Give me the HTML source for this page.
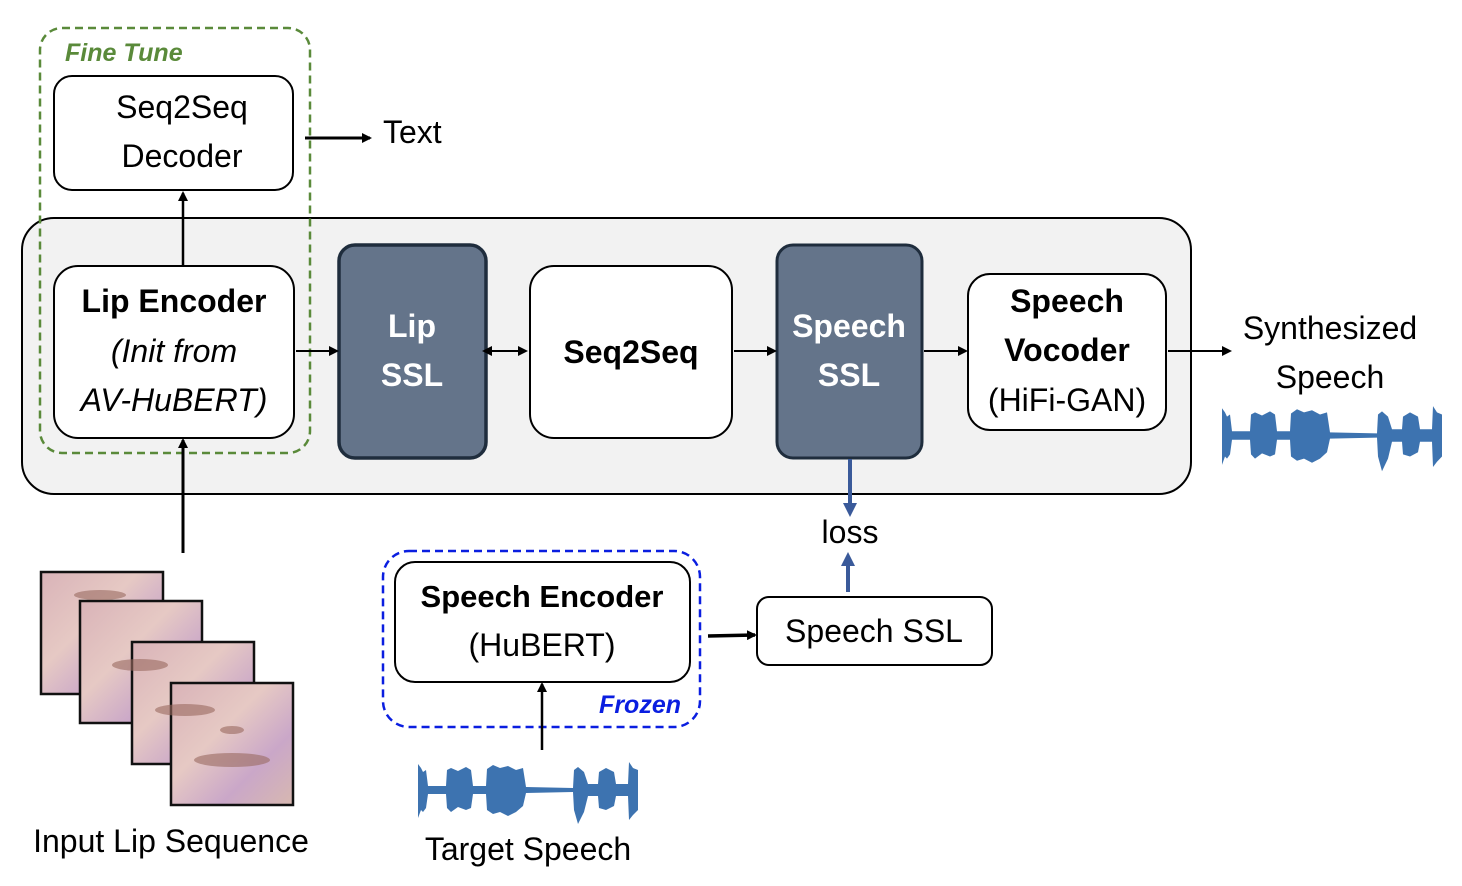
<!DOCTYPE html>
<html><head><meta charset="utf-8"><style>
html,body{margin:0;padding:0;background:#fff;}
svg{display:block;font-family:"Liberation Sans",Arial,sans-serif;}
</style></head><body>
<svg width="1462" height="886" viewBox="0 0 1462 886" xmlns="http://www.w3.org/2000/svg">
<defs>
<marker id="ah" markerWidth="10" markerHeight="10" refX="8" refY="5" orient="auto" markerUnits="userSpaceOnUse"><path d="M0,0 L10,5 L0,10 z" fill="#000"/></marker>
<marker id="ahs" markerWidth="10" markerHeight="10" refX="2" refY="5" orient="auto-start-reverse" markerUnits="userSpaceOnUse"><path d="M0,0 L10,5 L0,10 z" fill="#000"/></marker>
<marker id="ahb" markerWidth="14" markerHeight="14" refX="10" refY="7" orient="auto" markerUnits="userSpaceOnUse"><path d="M0,0 L14,7 L0,14 z" fill="#3a5a9a"/></marker>
<linearGradient id="skin" x1="0" y1="0" x2="1" y2="1"><stop offset="0" stop-color="#d9b3b8"/><stop offset="0.4" stop-color="#e6c9c4"/><stop offset="0.7" stop-color="#caa7c8"/><stop offset="1" stop-color="#d7b8b0"/></linearGradient>
<g id="wave"><path fill="#3d73b0" d="M0,4 L3,8 L5,12 L8,10 L10,26 L28,26 L29,10 L33,8 L40,11 L48,7 L53,10 L55,26 L68,26 L69,9 L75,5 L82,8 L90,6 L98,10 L105,8 L108,27 L155,28 L156,10 L160,7 L166,12 L170,24 L180,24 L181,12 L188,8 L196,12 L198,24 L210,24 L211,2 L215,8 L220,10 L220,50 L215,55 L211,60 L210,36 L198,36 L196,46 L188,50 L181,48 L180,36 L170,36 L166,52 L160,64 L156,50 L155,32 L108,33 L105,46 L98,52 L90,56 L82,52 L75,54 L69,50 L68,34 L55,34 L53,48 L48,50 L40,47 L33,52 L29,48 L28,34 L10,34 L8,48 L5,52 L3,50 L0,58 z"/></g>
</defs>

<!-- big container -->
<rect x="22" y="218" width="1169" height="276" rx="32" fill="#f2f2f2" stroke="#000" stroke-width="2"/>

<!-- Fine tune dashed -->
<rect x="40" y="28" width="270" height="425" rx="22" fill="none" stroke="#5a8a3a" stroke-width="2.5" stroke-dasharray="8,5"/>
<text x="65" y="61" font-size="25" font-weight="bold" font-style="italic" fill="#5a8a3a">Fine Tune</text>

<!-- Seq2Seq decoder -->
<rect x="54" y="76" width="239" height="114" rx="18" fill="#fff" stroke="#000" stroke-width="2"/>
<text x="182" y="118" font-size="32" text-anchor="middle">Seq2Seq</text>
<text x="182" y="167" font-size="32" text-anchor="middle">Decoder</text>
<line x1="305" y1="138" x2="370" y2="138" stroke="#000" stroke-width="3" marker-end="url(#ah)"/>
<text x="383" y="143" font-size="32">Text</text>

<!-- Lip encoder -->
<rect x="54" y="266" width="240" height="172" rx="24" fill="#fff" stroke="#000" stroke-width="2"/>
<text x="174" y="312" font-size="32" font-weight="bold" text-anchor="middle">Lip Encoder</text>
<text x="174" y="362" font-size="32" font-style="italic" text-anchor="middle">(Init from</text>
<text x="174" y="411" font-size="32" font-style="italic" text-anchor="middle">AV-HuBERT)</text>
<line x1="183" y1="266" x2="183" y2="193" stroke="#000" stroke-width="2.5" marker-end="url(#ah)"/>
<line x1="183" y1="553" x2="183" y2="440" stroke="#000" stroke-width="3" marker-end="url(#ah)"/>

<!-- Lip SSL -->
<rect x="339" y="245" width="147" height="213" rx="16" fill="#64748a" stroke="#1f2d3d" stroke-width="3.5"/>
<text x="412" y="337" font-size="32" font-weight="bold" fill="#fff" text-anchor="middle">Lip</text>
<text x="412" y="386" font-size="32" font-weight="bold" fill="#fff" text-anchor="middle">SSL</text>

<!-- Seq2Seq -->
<rect x="530" y="266" width="202" height="172" rx="24" fill="#fff" stroke="#000" stroke-width="2"/>
<text x="631" y="363" font-size="32" font-weight="bold" text-anchor="middle">Seq2Seq</text>

<!-- Speech SSL -->
<rect x="777" y="245" width="145" height="213" rx="16" fill="#64748a" stroke="#1f2d3d" stroke-width="3"/>
<text x="849" y="337" font-size="32" font-weight="bold" fill="#fff" text-anchor="middle">Speech</text>
<text x="849" y="386" font-size="32" font-weight="bold" fill="#fff" text-anchor="middle">SSL</text>

<!-- Vocoder -->
<rect x="968" y="274" width="198" height="156" rx="22" fill="#fff" stroke="#000" stroke-width="2"/>
<text x="1067" y="312" font-size="32" font-weight="bold" text-anchor="middle">Speech</text>
<text x="1067" y="361" font-size="32" font-weight="bold" text-anchor="middle">Vocoder</text>
<text x="1067" y="411" font-size="32" text-anchor="middle">(HiFi-GAN)</text>

<!-- arrows in row -->
<line x1="296" y1="351" x2="337" y2="351" stroke="#000" stroke-width="2" marker-end="url(#ah)"/>
<line x1="490" y1="351" x2="526" y2="351" stroke="#000" stroke-width="2" marker-start="url(#ahs)" marker-end="url(#ah)"/>
<line x1="734" y1="351" x2="775" y2="351" stroke="#000" stroke-width="2" marker-end="url(#ah)"/>
<line x1="924" y1="351" x2="966" y2="351" stroke="#000" stroke-width="2" marker-end="url(#ah)"/>
<line x1="1168" y1="351" x2="1230" y2="351" stroke="#000" stroke-width="2" marker-end="url(#ah)"/>

<text x="1330" y="339" font-size="32" text-anchor="middle">Synthesized</text>
<text x="1330" y="388" font-size="32" text-anchor="middle">Speech</text>
<use href="#wave" transform="translate(1222,404) scale(1,1.05)"/>

<!-- loss -->
<line x1="850" y1="459" x2="850" y2="513" stroke="#3a5a9a" stroke-width="4" marker-end="url(#ahb)"/>
<text x="850" y="543" font-size="32" text-anchor="middle">loss</text>
<line x1="848" y1="592" x2="848" y2="556" stroke="#3a5a9a" stroke-width="4" marker-end="url(#ahb)"/>

<rect x="757" y="597" width="235" height="68" rx="12" fill="#fff" stroke="#000" stroke-width="2"/>
<text x="874" y="642" font-size="32" text-anchor="middle">Speech SSL</text>
<line x1="708" y1="636" x2="755" y2="635" stroke="#000" stroke-width="3.5" marker-end="url(#ah)"/>

<!-- Frozen -->
<rect x="383" y="551" width="317" height="176" rx="26" fill="none" stroke="#0a1ee0" stroke-width="2.5" stroke-dasharray="8,5"/>
<rect x="395" y="562" width="295" height="120" rx="20" fill="#fff" stroke="#000" stroke-width="2"/>
<text x="542" y="607" font-size="31" font-weight="bold" text-anchor="middle">Speech Encoder</text>
<text x="542" y="656" font-size="32" text-anchor="middle">(HuBERT)</text>
<text x="681" y="713" font-size="25" font-weight="bold" font-style="italic" fill="#0a1ee0" text-anchor="end">Frozen</text>
<line x1="542" y1="750" x2="542" y2="684" stroke="#000" stroke-width="2.5" marker-end="url(#ah)"/>
<use href="#wave" transform="translate(418,760)"/>
<text x="528" y="860" font-size="32" text-anchor="middle">Target Speech</text>

<!-- faces -->
<g stroke="#111" stroke-width="2.5">
<rect x="41" y="572" width="122" height="122" fill="url(#skin)"/>
<rect x="80" y="601" width="122" height="122" fill="url(#skin)"/>
<rect x="132" y="642" width="122" height="122" fill="url(#skin)"/>
<rect x="171" y="683" width="122" height="122" fill="url(#skin)"/>
</g>
<g fill="#9a6a60" opacity="0.6">
<ellipse cx="232" cy="760" rx="38" ry="7"/>
<ellipse cx="232" cy="730" rx="12" ry="4"/>
<ellipse cx="185" cy="710" rx="30" ry="6"/>
<ellipse cx="140" cy="665" rx="28" ry="6"/>
<ellipse cx="100" cy="595" rx="26" ry="5"/>
</g>
<text x="171" y="852" font-size="32" text-anchor="middle">Input Lip Sequence</text>
</svg>
</body></html>
